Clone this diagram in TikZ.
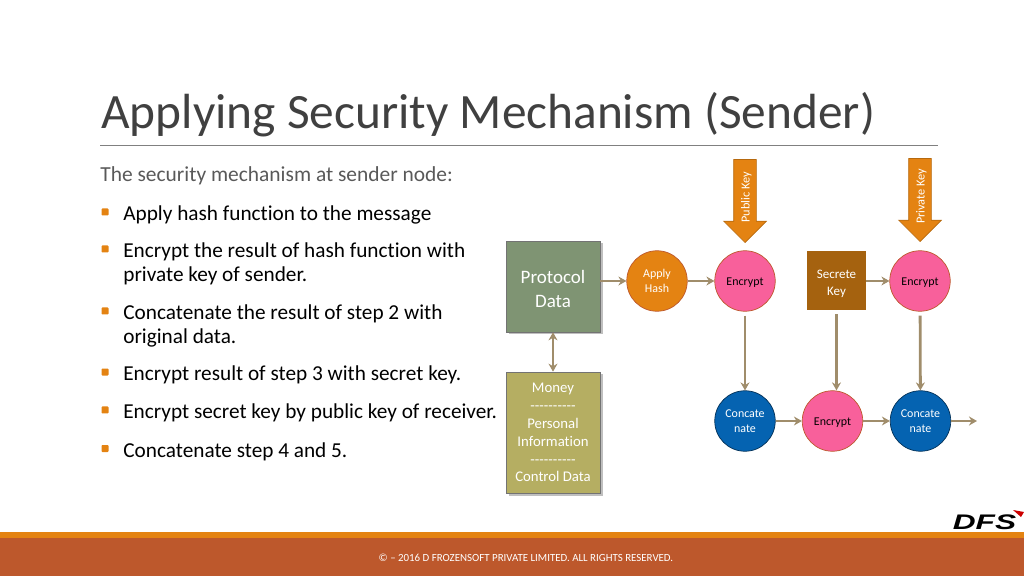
\documentclass[tikz,border=0pt]{standalone}
\usepackage{fontspec}
\setmainfont[Ligatures=NoCommon]{Carlito}
\newfontfamily\plainfont[Ligatures=NoCommon]{Carlito}
\newfontfamily\logofont{Liberation Sans}
\usepackage{xcolor}
\usetikzlibrary{positioning,shapes.arrows,arrows.meta,shadows}

\definecolor{bandorange}{HTML}{E48312}
\definecolor{bandrust}{HTML}{BD582C}
\definecolor{titlegray}{HTML}{404040}
\definecolor{introgray}{HTML}{595959}
\definecolor{linktan}{HTML}{A08D6B}
\definecolor{protogreen}{HTML}{7F9473}
\definecolor{moneyolive}{HTML}{B5AE62}
\definecolor{keybrown}{HTML}{A5620F}
\definecolor{encpink}{HTML}{F8609B}
\definecolor{concblue}{HTML}{0563B1}

\begin{document}
\begin{tikzpicture}[
    databox/.style={rectangle, draw=black!55, fill=protogreen, text=white, minimum width=1.88cm, align=center, drop shadow={shadow xshift=0.05cm, shadow yshift=-0.05cm, opacity=0.5}},
    circ/.style={circle, minimum size=1.21cm, inner sep=0pt, align=center, font=\fontsize{6.8}{8.6}\selectfont},
    hashcirc/.style={circ, draw=bandrust, fill=bandorange, text=white},
    enccirc/.style={circ, draw=bandrust, fill=encpink, text=black, text height=0.2cm},
    conccirc/.style={circ, draw=concblue!50!black, fill=concblue, text=white},
    keyarrow/.style={single arrow, shape border rotate=180, rotate=90, anchor=tip, fill=bandorange, draw=bandorange!80!black, text=white, minimum height=1.66cm, minimum width=0.84cm, single arrow head extend=0.2cm, single arrow head indent=0cm, inner sep=0pt, text height=0.31cm, text depth=0.13cm, font=\fontsize{7}{8}\selectfont},
    arrow/.style={-{Stealth[length=0.16cm,width=0.18cm]}, line width=1.6pt, linktan},
    bullet/.style={rectangle, rounded corners=0.5pt, fill=bandorange, minimum size=0.14cm, inner sep=0pt},
    item/.style={anchor=west, align=left, inner sep=0pt, text=black, font=\fontsize{12.1}{13.6}\selectfont}
]
\useasboundingbox (0,0) rectangle (20.48,-11.52);

% Footer bands
\fill[bandorange] (0,-10.64) rectangle (20.48,-10.76);
\fill[bandrust] (0,-10.76) rectangle (20.48,-11.52);
\node[text=white, font=\fontsize{6.2}{8}\selectfont] (footer) at (10.52,-11.16) {© – 2016 D FROZENSOFT PRIVATE LIMITED. ALL RIGHTS RESERVED.};

% Logo
\node[xscale=1.5, inner sep=0pt, font=\fontsize{12}{12}\logofont\bfseries\itshape] (logo) at (19.69,-10.45) {DFS};
\fill[red!80!black] (20.26,-10.20) -- (20.48,-10.24) -- (20.42,-10.34) -- cycle;

% Title
\node[anchor=base west, inner sep=0pt, text=titlegray, font=\fontsize{28.1}{34}\selectfont] (title) at (2.02,-2.58) {Applying Security Mechanism (Sender)};
\coordinate (ruleL) at (2.00,-2.90);
\coordinate (ruleR) at (18.76,-2.90);
\draw[black!50, line width=0.5pt] (ruleL) -- (ruleR);

% Left text
\node[anchor=west, inner sep=0pt, text=introgray, font=\fontsize{12.2}{14}\selectfont] (intro) at (2.00,-3.51) {The security mechanism at sender node:};

\node[item] (s1) at (2.46,-4.30) {Apply hash function to the message};
\node[item] (s2) at (2.46,-5.28) {Encrypt the result of hash function with\\private key of sender.};
\node[item] (s3) at (2.46,-6.52) {Concatenate the result of step 2 with\\original data.};
\node[item] (s4) at (2.46,-7.50) {Encrypt result of step 3 with secret key.};
\node[item] (s5) at (2.46,-8.26) {Encrypt secret key by public key of receiver.};
\node[item] (s6) at (2.46,-9.03) {Concatenate step 4 and 5.};

\node[bullet] (b1) at (2.10,-4.24) {};
\node[bullet] (b2) at (2.10,-4.98) {};
\node[bullet] (b3) at (2.10,-6.22) {};
\node[bullet] (b4) at (2.10,-7.44) {};
\node[bullet] (b5) at (2.10,-8.20) {};
\node[bullet] (b6) at (2.10,-8.97) {};

% Data boxes
\node[databox, minimum height=1.82cm, font=\fontsize{10.8}{13.4}\selectfont] (proto) at (11.06,-5.73) {\rule{0pt}{0.36cm}Protocol\\Data};
\node[databox, fill=moneyolive, minimum height=2.42cm, inner sep=0pt, font=\fontsize{8.4}{10.2}\plainfont] (money) at (11.06,-8.65) {Money\\----------\\Personal\\Information\\----------\\Control Data};

% Top row
\node[hashcirc] (hash) at (13.14,-5.62) {Apply\\Hash};
\node[enccirc] (enc1) at (14.90,-5.62) {Encrypt};
\node[rectangle, fill=keybrown, text=white, minimum size=1.18cm, inner sep=0pt, align=center, font=\fontsize{7.4}{9.2}\selectfont] (secret) at (16.73,-5.61) {\rule{0pt}{0.3cm}Secrete\\Key};
\node[enccirc] (enc2) at (18.40,-5.62) {Encrypt};

% Bottom row
\node[conccirc] (conc1) at (14.90,-8.42) {Concate\\nate};
\node[enccirc] (enc3) at (16.65,-8.42) {Encrypt};
\node[conccirc] (conc2) at (18.41,-8.42) {Concate\\nate};
\coordinate (out) at (19.54,-8.42);

% Key arrows
\node[keyarrow] (pubkey) at (14.90,-4.86) {Public Key\hspace*{0.08cm}};
\node[keyarrow] (privkey) at (18.40,-4.84) {Private Key\hspace*{0.08cm}};

% Connectors
\draw[arrow, {Stealth[length=0.16cm,width=0.18cm]}-{Stealth[length=0.16cm,width=0.18cm]}] (proto.south) -- (money.north);
\draw[arrow] (proto.east |- hash) -- (hash);
\draw[arrow] (hash) -- (enc1);
\draw[arrow] (secret.east |- enc2) -- (enc2);
\draw[arrow, shorten <=0.08cm] (enc1) -- (conc1);
\draw[arrow, shorten <=0.08cm] (secret.south) -- (secret.south |- enc3.north);
\draw[arrow, shorten <=0.08cm] (enc2) -- (conc2);
\draw[arrow] (conc1) -- (enc3);
\draw[arrow] (enc3) -- (conc2);
\draw[arrow] (conc2) -- (out);

\end{tikzpicture}
\end{document}
